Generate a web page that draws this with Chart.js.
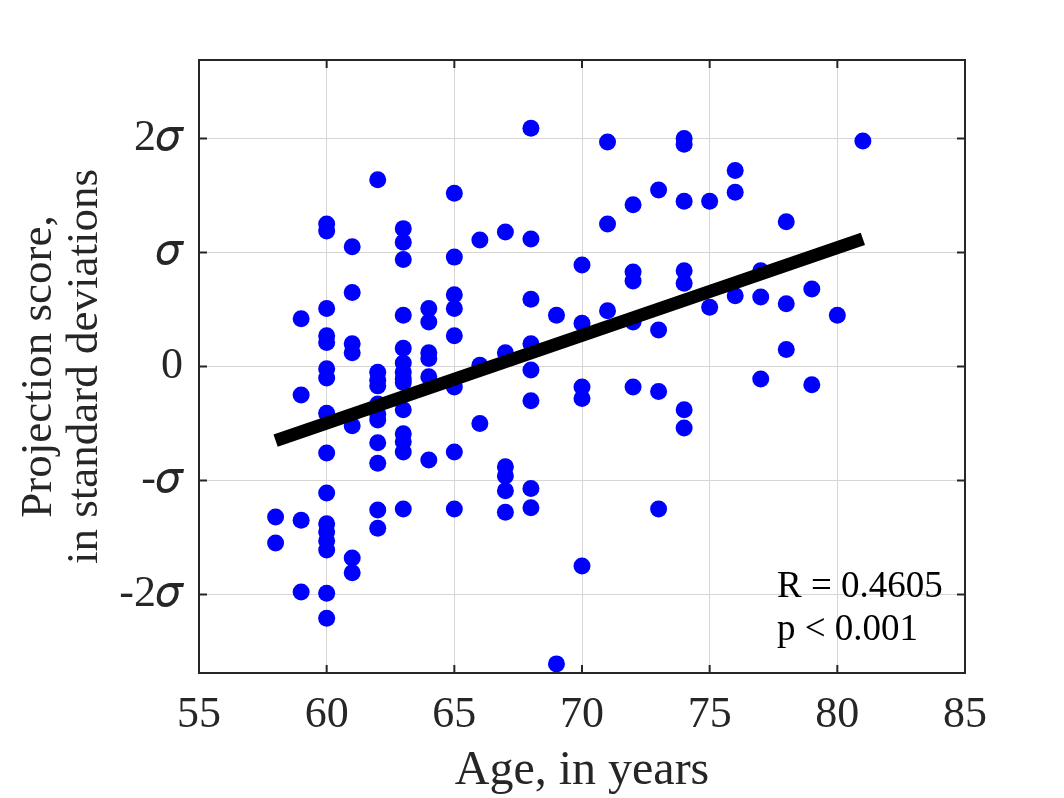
<!DOCTYPE html>
<html>
<head>
<meta charset="utf-8">
<script src="https://cdn.jsdelivr.net/npm/chart.js@4/dist/chart.umd.min.js"></script>
<style>
  body { margin: 0; background: #fff; }
  #canvas { display: block; }
</style>
</head>
<body>
<canvas id="canvas" width="1064" height="798"></canvas>
<script>
// ages of every subject, grouped per age on each line
const ages = [
  58, 58,
  59, 59, 59, 59,
  60, 60, 60, 60, 60, 60, 60, 60, 60, 60, 60, 60, 60, 60, 60, 60,
  61, 61, 61, 61, 61, 61, 61,
  62, 62, 62, 62, 62, 62, 62, 62, 62, 62, 62,
  63, 63, 63, 63, 63, 63, 63, 63, 63, 63, 63, 63, 63, 63,
  64, 64, 64, 64, 64, 64,
  65, 65, 65, 65, 65, 65, 65, 65,
  66, 66, 66,
  67, 67, 67, 67, 67, 67,
  68, 68, 68, 68, 68, 68, 68, 68,
  69, 69,
  70, 70, 70, 70, 70,
  71, 71, 71,
  72, 72, 72, 72, 72,
  73, 73, 73, 73,
  74, 74, 74, 74, 74, 74, 74,
  75, 75,
  76, 76, 76,
  77, 77, 77,
  78, 78, 78,
  79, 79,
  80,
  81
];

// projection score (in standard deviations), same order as ages
const scores = [
  -1.32, -1.55,
  0.42, -0.25, -1.35, -1.98,
  1.25, 1.19, 0.51, 0.27, 0.21, -0.02, -0.10, -0.41, -0.76, -1.11, -1.38, -1.45, -1.53, -1.61, -1.99, -2.21,
  1.05, 0.65, 0.20, 0.12, -0.52, -1.68, -1.81,
  1.64, -0.05, -0.12, -0.17, -0.33, -0.42, -0.47, -0.67, -0.85, -1.26, -1.42,
  1.21, 1.09, 0.94, 0.45, 0.16, 0.03, -0.05, -0.11, -0.14, -0.38, -0.59, -0.66, -0.75, -1.25,
  0.51, 0.39, 0.12, 0.07, -0.09, -0.82,
  1.52, 0.96, 0.63, 0.51, 0.27, -0.18, -0.75, -1.25,
  1.11, 0.01, -0.50,
  1.18, 0.12, -0.88, -0.96, -1.09, -1.28,
  2.09, 1.12, 0.59, 0.20, -0.03, -0.30, -1.07, -1.24,
  0.45, -2.61,
  0.89, 0.38, -0.18, -0.28, -1.75,
  1.97, 1.25, 0.49,
  1.42, 0.83, 0.75, 0.39, -0.18,
  1.55, 0.32, -0.22, -1.25,
  2.00, 1.95, 1.45, 0.84, 0.73, -0.38, -0.54,
  1.45, 0.52,
  1.72, 1.53, 0.62,
  0.84, 0.61, -0.11,
  1.27, 0.55, 0.15,
  0.68, -0.16,
  0.45,
  1.98
];

// regression line end points
const fitAges = [58, 81];
const fitScores = [-0.65, 1.12];

const yTickValues = [-2, -1, 0, 1, 2];
const yTickLabels = ['-2𝜎', '-𝜎', '0', '𝜎', '2𝜎'];
const statLines = ['R = 0.4605', 'p < 0.001'];

const serif = '"Liberation Serif", "DejaVu Serif", "Times New Roman", serif';
const ink = '#262626';

let points = [];
for (let i = 0; i < ages.length; i++) {
  points.push({x: ages[i], y: scores[i]});
}
let fitPoints = [];
for (let i = 0; i < fitAges.length; i++) {
  fitPoints.push({x: fitAges[i], y: fitScores[i]});
}

// box round the plot, inward ticks and the R / p text
const frame = {
  id: 'frame',
  afterDatasetsDraw(chart) {
    const ctx = chart.ctx;
    const a = chart.chartArea;
    const xs = chart.scales.x;
    const ys = chart.scales.y;
    const tl = 8;
    ctx.save();
    ctx.strokeStyle = ink;
    ctx.lineWidth = 2;
    ctx.beginPath();
    xs.ticks.forEach(t => {
      const px = xs.getPixelForValue(t.value);
      if (px <= a.left + 1 || px >= a.right - 1) return;
      ctx.moveTo(px, a.bottom); ctx.lineTo(px, a.bottom - tl);
      ctx.moveTo(px, a.top); ctx.lineTo(px, a.top + tl);
    });
    ys.ticks.forEach(t => {
      const py = ys.getPixelForValue(t.value);
      ctx.moveTo(a.left, py); ctx.lineTo(a.left + tl, py);
      ctx.moveTo(a.right, py); ctx.lineTo(a.right - tl, py);
    });
    ctx.stroke();
    ctx.strokeRect(a.left, a.top, a.right - a.left, a.bottom - a.top);

    ctx.fillStyle = '#000';
    ctx.font = '37px ' + serif;
    ctx.textAlign = 'left';
    ctx.textBaseline = 'alphabetic';
    ctx.fillText(statLines[0], a.left + 578, a.top + 537);
    ctx.fillText(statLines[1], a.left + 578, a.top + 580);
    ctx.restore();
  }
};

const ctx = document.getElementById('canvas');
new Chart(ctx, {
  type: 'scatter',
  data: {
    datasets: [
      {
        type: 'line',
        data: fitPoints,
        borderColor: '#000',
        borderWidth: 13,
        borderCapStyle: 'butt',
        pointRadius: 0,
        fill: false,
        order: 0
      },
      {
        data: points,
        backgroundColor: '#0000ff',
        borderWidth: 0,
        pointRadius: 8.5,
        order: 1
      }
    ]
  },
  options: {
    responsive: false,
    animation: false,
    layout: { padding: { top: 60, right: 99, left: 0, bottom: 0 } },
    plugins: {
      legend: { display: false },
      tooltip: { enabled: false }
    },
    scales: {
      x: {
        type: 'linear',
        min: 55,
        max: 85,
        afterFit: s => { s.height = 125; },
        grid: { color: '#d6d6d6', lineWidth: 1, drawTicks: false },
        border: { display: false },
        ticks: {
          stepSize: 5,
          padding: 16,
          color: ink,
          font: { family: serif, size: 44 }
        },
        title: {
          display: true,
          text: 'Age, in years',
          color: ink,
          font: { family: serif, size: 48, lineHeight: 1.1 },
          padding: { top: 0, bottom: 0 }
        }
      },
      y: {
        type: 'linear',
        min: -2.69,
        max: 2.69,
        afterFit: s => { s.width = 199; },
        afterBuildTicks: s => { s.ticks = yTickValues.map(v => ({value: v})); },
        grid: { color: '#d6d6d6', lineWidth: 1, drawTicks: false },
        border: { display: false },
        ticks: {
          padding: 16,
          color: ink,
          font: { family: serif, size: 44 },
          callback: v => yTickLabels[yTickValues.indexOf(v)]
        },
        title: {
          display: true,
          text: ['Projection score,', 'in standard deviations'],
          color: ink,
          font: { family: serif, size: 45, lineHeight: 1.02 },
          padding: { top: 16, bottom: 0 }
        }
      }
    }
  },
  plugins: [frame]
});
</script>
</body>
</html>
